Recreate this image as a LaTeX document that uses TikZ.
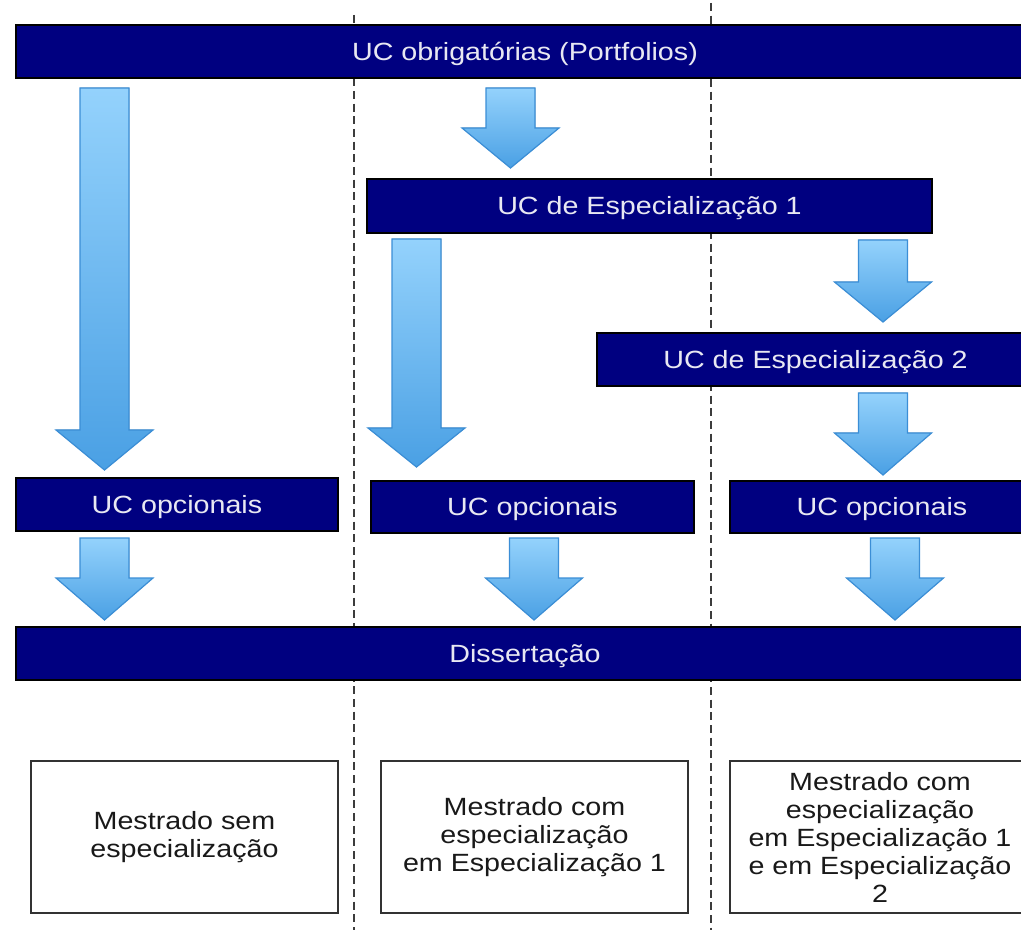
\documentclass[tikz,border=0pt]{standalone}
\usepackage{fontspec}
\setmainfont[FakeStretch=1.15]{Liberation Sans}
\usetikzlibrary{fit}
\definecolor{navybar}{RGB}{0,0,128}
\definecolor{bartext}{RGB}{232,232,242}
\definecolor{arrtop}{RGB}{148,210,252}
\definecolor{arrbot}{RGB}{74,160,228}
\definecolor{arredge}{RGB}{59,142,214}
\definecolor{dashgray}{RGB}{60,60,60}
\definecolor{boxedge}{RGB}{50,50,50}
\newcommand\blockarrow[4]{% x centre, y top, y head base, y tip
  \filldraw[blockarr] (#1-24.5,#2) -- (#1+24.5,#2) -- (#1+24.5,#3) -- (#1+48.5,#3)
    -- (#1,#4) -- (#1-48.5,#3) -- (#1-24.5,#3) -- cycle;}
\begin{document}
\begin{tikzpicture}[x=0.75pt,y=-0.75pt,
  txt/.style={font=\fontsize{18.7pt}{21pt}\selectfont},
  bar/.style={fill=navybar, draw=black, line width=0.8pt, inner sep=0pt},
  bartxt/.style={txt, text=bartext, inner sep=0pt, text height=13.4pt, text depth=0pt, anchor=center},
  resultbox/.style={draw=boxedge, line width=1.3pt, fill=white, inner sep=0pt},
  restxt/.style={txt, align=center, text=black!90},
  blockarr/.style={top color=arrtop, bottom color=arrbot, draw=arredge, line width=0.9pt, line join=miter},
  divider/.style={draw=dashgray, line width=1.5pt, dash pattern=on 6pt off 3.5pt}]
\clip (0,0) rectangle (1021,930);
\fill[white] (0,0) rectangle (1021,930);
% dividers
\coordinate (d1t) at (354,15);
\coordinate (d1b) at (354,930);
\coordinate (d2t) at (711,3);
\coordinate (d2b) at (711,930);
\draw[divider] (d1t) -- (d1b);
\draw[divider] (d2t) -- (d2b);
% bars
\node[bar, fit={(16,25) (1034,78)}] (obrig) {};
\node[bartxt] (obrigt) at (obrig.center) {UC obrigatórias (Portfolios)};
\node[bar, fit={(367,179) (932,233)}] (esp1) {};
\node[bartxt] (esp1t) at (esp1.center) {UC de Especialização 1};
\node[bar, fit={(597,333) (1034,386)}] (esp2) {};
\node[bartxt] (esp2t) at (esp2.center) {UC de Especialização 2};
\node[bar, fit={(16,478) (338,531)}] (opcA) {};
\node[bartxt] (opcAt) at (opcA.center) {UC opcionais};
\node[bar, fit={(371,481) (694,533)}] (opcB) {};
\node[bartxt] (opcBt) at (opcB.center) {UC opcionais};
\node[bar, fit={(730,481) (1034,533)}] (opcC) {};
\node[bartxt] (opcCt) at (opcC.center) {UC opcionais};
\node[bar, fit={(16,627) (1034,680)}] (diss) {};
\node[bartxt] (disst) at (diss.center) {Dissertação};
% result boxes
\node[resultbox, fit={(31,761) (338,913)}] (resA) {};
\node[restxt] (resAt) at (resA.center) {Mestrado sem\\especialização};
\node[resultbox, fit={(381,761) (688,913)}] (resB) {};
\node[restxt] (resBt) at (resB.center) {Mestrado com\\especialização\\em Especialização 1};
\node[resultbox, fit={(730,761) (1030,913)}] (resC) {};
\node[restxt] (resCt) at (resC.center) {Mestrado com\\especialização\\em Especialização 1\\e em Especialização\\2};
% block arrows
\blockarrow{104.5}{88}{430}{470}
\blockarrow{510.5}{88}{128}{168}
\blockarrow{416.5}{239}{428}{467}
\blockarrow{883}{240}{282}{322}
\blockarrow{883}{393}{433}{475}
\blockarrow{104.5}{538}{578}{620}
\blockarrow{534}{538}{578}{620}
\blockarrow{895}{538}{578}{620}
\end{tikzpicture}
\end{document}
